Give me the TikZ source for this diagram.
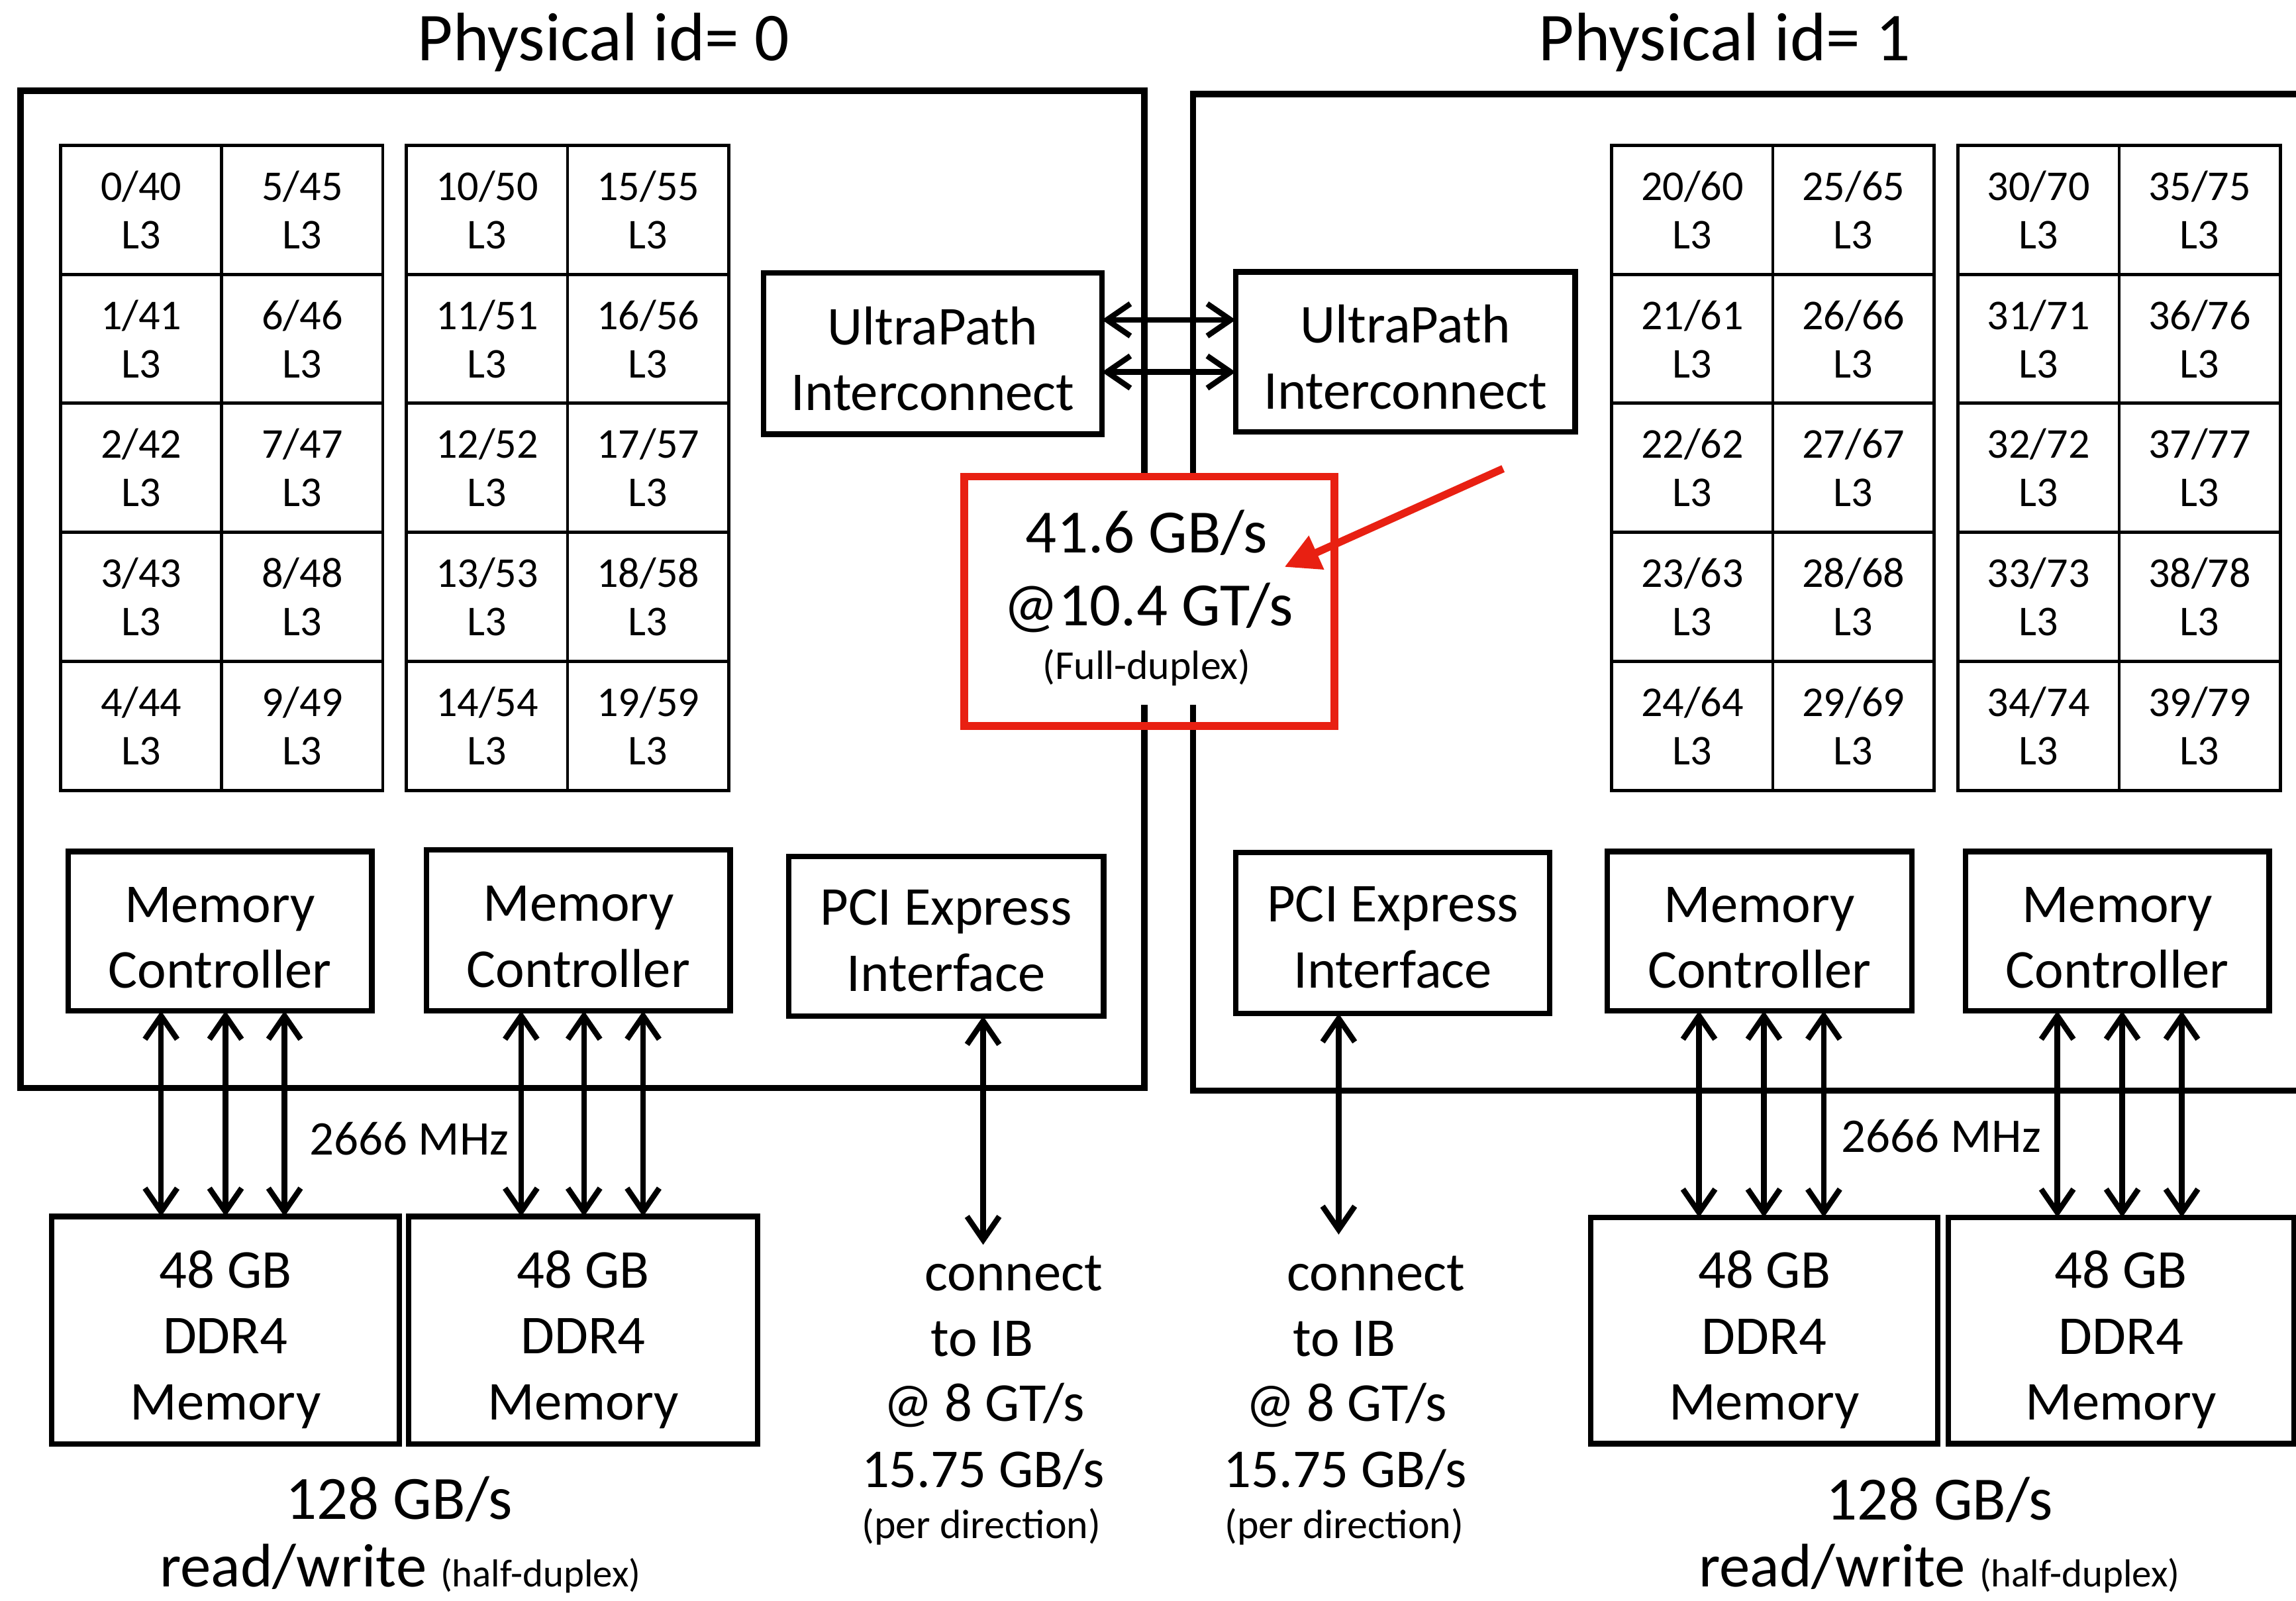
\documentclass[tikz,border=0pt]{standalone}
\usepackage{fontspec}
\setmainfont{Carlito}
\usetikzlibrary{arrows.meta}
\definecolor{hlred}{RGB}{232,32,18}
\newcommand{\toppad}[1]{\rule{0pt}{#1}}
\begin{document}
\begin{tikzpicture}[x=0.5pt,y=-0.5pt,
  every node/.style={inner sep=0pt, outer sep=0pt},
  blk/.style={draw, line width=1.9pt, align=center, font=\fontsize{18.7}{22.5}\selectfont},
  cell/.style={draw, line width=1.1pt, minimum width=55pt, minimum height=44pt, align=center, font=\fontsize{14.5}{16.5}\selectfont},
  bidir/.style={{Straight Barb[length=8pt,width=11pt]}-{Straight Barb[length=8pt,width=11pt]}, line width=1.9pt},
  outerbox/.style={line width=2.2pt},
  lbl/.style={anchor=base, font=\fontsize{18.7}{22.5}\selectfont},
  smalllbl/.style={anchor=base, font=\fontsize{14}{16}\selectfont},
  biglbl/.style={anchor=base, font=\fontsize{21}{25}\selectfont}]
\useasboundingbox (0,0) rectangle (1568,1093);
\fill[white] (0,0) rectangle (1568,1093);

% titles
\node[anchor=base, font=\fontsize{23.4}{28}\selectfont] (t0) at (412.2,41.5) {Physical id= 0};
\node[anchor=base, font=\fontsize{23.4}{28}\selectfont] (t1) at (1177.9,41.5) {Physical id= 1};

% outer boxes
\draw[outerbox] (14.1,62) rectangle (781.4,742.8);
\draw[outerbox] (1570,64.2) -- (814.7,64.2) -- (814.7,744.6) -- (1570,744.6);

% core grids
\foreach \gx/\base in {41.4/0, 277.6/10, 1100.7/20, 1337.2/30} {
  \foreach \c in {0,1} {
    \foreach \r in {0,...,4} {
      \pgfmathtruncatemacro{\core}{\base+5*\c+\r}
      \pgfmathtruncatemacro{\sib}{\core+40}
      \node[cell] (cell\core) at ({\gx+55+110*\c}, {99.2+44.05+88.1*\r}) {\core/\sib\\L3};
    }
  }
}

% blocks
\node[blk, minimum width=115.6pt, minimum height=55pt] (upL) at (637,241.4) {\toppad{16.6pt}UltraPath\\Interconnect};
\node[blk, minimum width=115.95pt, minimum height=54.6pt] (upR) at (959.75,240.3) {\toppad{16.6pt}UltraPath\\Interconnect};
\node[blk, minimum width=103.75pt, minimum height=54.4pt] (mcL1) at (150.2,635.8) {\toppad{16.5pt}Memory\\Controller};
\node[blk, minimum width=103.7pt, minimum height=55pt] (mcL2) at (395,635.2) {\toppad{16.5pt}Memory\\Controller};
\node[blk, minimum width=107.5pt, minimum height=54.45pt] (pciL) at (646.1,639.3) {\toppad{15pt}PCI Express\\Interface};
\node[blk, minimum width=107.3pt, minimum height=55pt] (pciR) at (951.1,637) {\toppad{15pt}PCI Express\\Interface};
\node[blk, minimum width=104pt, minimum height=54.4pt] (mcR1) at (1201.6,635.8) {\toppad{16.5pt}Memory\\Controller};
\node[blk, minimum width=103.7pt, minimum height=54.4pt] (mcR2) at (1446,635.8) {\toppad{16.5pt}Memory\\Controller};
\node[blk, minimum width=118.65pt, minimum height=77.6pt] (ddL1) at (153.95,908.2) {\toppad{19pt}48 GB\\DDR4\\Memory};
\node[blk, minimum width=119.15pt, minimum height=77.6pt] (ddL2) at (398.25,908.2) {\toppad{19pt}48 GB\\DDR4\\Memory};
\node[blk, minimum width=118.5pt, minimum height=77.25pt] (ddR1) at (1204.9,908.5) {\toppad{19pt}48 GB\\DDR4\\Memory};
\node[blk, minimum width=118pt, minimum height=77.25pt] (ddR2) at (1448.5,908.5) {\toppad{19pt}48 GB\\DDR4\\Memory};

% memory channels
\foreach \m/\d/\xx in {mcL1/ddL1/110, mcL1/ddL1/154, mcL1/ddL1/194.3,
                       mcL2/ddL2/355.9, mcL2/ddL2/398.8, mcL2/ddL2/439.2,
                       mcR1/ddR1/1160.3, mcR1/ddR1/1204.6, mcR1/ddR1/1245.5,
                       mcR2/ddR2/1405, mcR2/ddR2/1449.3, mcR2/ddR2/1490}
  \draw[bidir] (\m.south -| \xx,0) -- (\d.north -| \xx,0);

% PCIe links
\coordinate (ibL) at (671.4,849.9);
\coordinate (ibR) at (914.2,842.9);
\draw[bidir] (pciL.south -| ibL) -- (ibL);
\draw[bidir] (pciR.south -| ibR) -- (ibR);

% UPI links
\draw[bidir] (upL.east |- 0,218.4) -- (upR.west |- 0,218.4);
\draw[bidir] (upL.east |- 0,254) -- (upR.west |- 0,254);

% highlighted bandwidth box
\fill[white] (660.5,327.5) rectangle (909.5,481);
\node[draw=hlred, line width=2.7pt, minimum width=126.45pt, minimum height=85.15pt] (bwbox) at (784.95,410.55) {};
\node[anchor=base, font=\fontsize{21}{24}\selectfont] (bw1) at (783.1,377.3) {41.6 GB/s};
\node[anchor=base, font=\fontsize{21}{24}\selectfont] (bw2) at (784.4,427.1) {@10.4 GT/s};
\node[smalllbl] (bw3) at (783.1,463.9) {(Full-duplex)};
\coordinate (ra0) at (1026.5,320);
\coordinate (ra1) at (877.2,387.1);
\draw[hlred, line width=2.6pt, -{Triangle[length=12pt,width=12pt]}] (ra0) -- (ra1);

% frequency labels
\node[anchor=base, font=\fontsize{16.5}{20}\selectfont] (f0) at (279.4,788.5) {2666 MHz};
\node[anchor=base, font=\fontsize{16.5}{20}\selectfont] (f1) at (1325.7,786.7) {2666 MHz};

% memory bandwidth labels
\node[biglbl] (mbL1) at (272.5,1037.3) {128 GB/s};
\node[biglbl] (mbL2) at (273.4,1083.5) {read/write {\fontsize{13.3}{16}\selectfont(half-duplex)}};
\node[biglbl] (mbR1) at (1324.5,1037.7) {128 GB/s};
\node[biglbl] (mbR2) at (1324.4,1083.5) {read/write {\fontsize{13.3}{16}\selectfont(half-duplex)}};

% IB labels
\node[lbl] (ibL1) at (692.3,881) {connect};
\node[lbl] (ibL2) at (670.6,926.1) {to IB};
\node[lbl] (ibL3) at (672,970.4) {@ 8 GT/s};
\node[lbl] (ibL4) at (671.4,1015.6) {15.75 GB/s};
\node[smalllbl] (ibL5) at (670.2,1050.2) {(per direction)};
\node[lbl] (ibR1) at (939.6,881) {connect};
\node[lbl] (ibR2) at (918,926.1) {to IB};
\node[lbl] (ibR3) at (919.5,970.4) {@ 8 GT/s};
\node[lbl] (ibR4) at (918.7,1015.6) {15.75 GB/s};
\node[smalllbl] (ibR5) at (918,1050.2) {(per direction)};
\end{tikzpicture}
\end{document}
